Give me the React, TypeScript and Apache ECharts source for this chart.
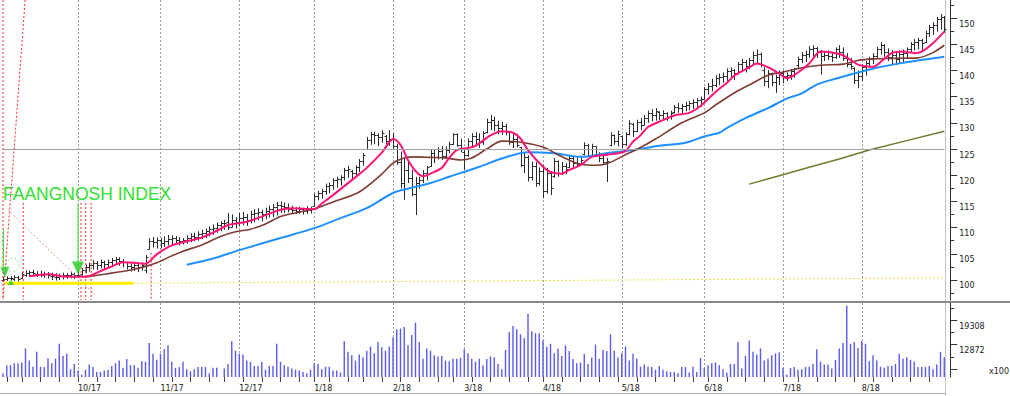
import React, { useEffect, useRef } from "react";
import * as echarts from "echarts";

// ---- trading days (categories) ----
const daysSep17 = [1, 5, 6, 7, 8, 11, 12, 13, 14, 15, 18, 19, 20, 21, 22, 25, 26, 27, 28, 29];
const daysOct17 = [2, 3, 4, 5, 6, 9, 10, 11, 12, 13, 16, 17, 18, 19, 20, 23, 24, 25, 26, 27, 30, 31];
const daysNov17 = [1, 2, 3, 6, 7, 8, 9, 10, 13, 14, 15, 16, 17, 20, 21, 22, 24, 27, 28, 29, 30];
const daysDec17 = [1, 4, 5, 6, 7, 8, 11, 12, 13, 14, 15, 18, 19, 20, 21, 22, 26, 27, 28, 29];
const daysJan18 = [2, 3, 4, 5, 8, 9, 10, 11, 12, 16, 17, 18, 19, 22, 23, 24, 25, 26, 29, 30, 31];
const daysFeb18 = [1, 2, 5, 6, 7, 8, 9, 12, 13, 14, 15, 16, 20, 21, 22, 23, 26, 27, 28];
const daysMar18 = [1, 2, 5, 6, 7, 8, 9, 12, 13, 14, 15, 16, 19, 20, 21, 22, 23, 26, 27, 28, 29];
const daysApr18 = [2, 3, 4, 5, 6, 9, 10, 11, 12, 13, 16, 17, 18, 19, 20, 23, 24, 25, 26, 27, 30];
const daysMay18 = [1, 2, 3, 4, 7, 8, 9, 10, 11, 14, 15, 16, 17, 18, 21, 22, 23, 24, 25, 29, 30, 31];
const daysJun18 = [1, 4, 5, 6, 7, 8, 11, 12, 13, 14, 15, 18, 19, 20, 21, 22, 25, 26, 27, 28, 29];
const daysJul18 = [2, 3, 5, 6, 9, 10, 11, 12, 13, 16, 17, 18, 19, 20, 23, 24, 25, 26, 27, 30, 31];
const daysAug18 = [1, 2, 3, 6, 7, 8, 9, 10, 13, 14, 15, 16, 17, 20, 21, 22, 23, 24, 27, 28, 29, 30, 31];

const monthDays: Array<[number, number, number[]]> = [
  [2017, 9, daysSep17], [2017, 10, daysOct17], [2017, 11, daysNov17], [2017, 12, daysDec17],
  [2018, 1, daysJan18], [2018, 2, daysFeb18], [2018, 3, daysMar18], [2018, 4, daysApr18],
  [2018, 5, daysMay18], [2018, 6, daysJun18], [2018, 7, daysJul18], [2018, 8, daysAug18],
];

// ---- OHLC [open, high, low, close] ----
const ohlcSep17 = [
  [100.0, 100.6, 99.6, 100.2], [100.2, 100.7, 99.8, 100.4], [100.4, 100.8, 99.9, 100.3], [100.2, 100.9, 99.8, 100.5],
  [100.5, 100.8, 99.7, 100.2], [100.4, 101.5, 100.2, 101.2], [101.0, 101.9, 100.6, 101.4], [101.3, 101.8, 100.7, 101.5],
  [101.5, 101.9, 100.8, 101.3], [101.2, 101.7, 100.6, 101.2], [101.1, 101.8, 100.5, 101.0], [101.0, 101.6, 100.4, 101.2],
  [101.2, 101.5, 100.3, 100.9], [100.8, 101.4, 100.0, 100.7], [100.6, 101.3, 99.9, 100.6], [100.6, 101.2, 100.0, 100.8],
  [100.8, 101.4, 100.1, 100.9], [100.9, 101.3, 100.2, 101.0], [101.0, 101.6, 100.3, 101.2], [101.2, 101.4, 100.2, 101.0],
];
const ohlcOct17 = [
  [101.0, 101.7, 100.4, 101.0], [101.1, 102.3, 100.8, 102.0], [102.0, 102.9, 101.3, 102.5], [102.4, 103.3, 101.6, 102.8],
  [102.8, 103.8, 102.0, 103.2], [103.2, 103.6, 101.9, 102.9], [102.9, 103.9, 102.2, 103.4], [103.4, 103.7, 101.9, 103.0],
  [103.0, 103.9, 102.3, 103.5], [103.4, 104.2, 102.6, 103.8], [103.8, 104.4, 102.8, 104.0], [104.0, 104.3, 102.7, 103.6],
  [103.6, 104.0, 102.4, 103.4], [103.4, 103.5, 102.0, 102.6], [102.6, 103.2, 101.6, 102.4], [102.4, 103.3, 101.7, 102.9],
  [102.9, 103.1, 101.5, 102.5], [102.5, 103.4, 101.8, 102.8], [102.0, 104.8, 101.3, 104.4], [106.0, 108.0, 105.8, 107.5],
  [107.5, 108.2, 106.2, 107.2], [107.2, 108.1, 106.0, 107.6],
];
const ohlcNov17 = [
  [107.6, 108.0, 106.0, 107.0], [107.0, 108.3, 106.3, 107.5], [107.5, 108.6, 106.6, 107.8], [107.8, 108.5, 106.8, 108.0],
  [108.0, 108.4, 106.9, 107.7], [107.7, 108.2, 106.6, 107.4], [107.4, 108.0, 106.8, 107.6], [107.6, 108.5, 106.9, 108.0],
  [108.0, 108.9, 107.2, 108.4], [108.4, 109.0, 107.4, 108.3], [108.3, 109.3, 107.5, 108.8], [108.8, 109.6, 107.8, 109.0],
  [109.0, 109.8, 108.0, 109.3], [109.3, 110.2, 108.3, 109.7], [109.7, 110.6, 108.6, 110.0], [110.0, 111.0, 109.0, 110.5],
  [110.5, 111.2, 109.3, 110.8], [110.8, 111.5, 109.6, 110.9], [111.0, 112.8, 109.5, 110.2], [110.2, 112.5, 110.0, 111.5],
  [111.5, 112.0, 109.8, 111.0],
];
const ohlcDec17 = [
  [111.0, 112.8, 110.2, 111.8], [111.8, 113.0, 110.4, 112.0], [112.0, 112.6, 110.3, 111.4], [111.4, 113.2, 110.8, 112.5],
  [112.5, 113.5, 111.0, 112.8], [112.8, 113.7, 111.4, 113.0], [113.0, 113.4, 111.2, 112.6], [112.6, 113.8, 111.6, 113.2],
  [113.2, 114.2, 111.9, 113.6], [113.6, 114.5, 112.0, 114.0], [114.0, 114.9, 112.3, 114.3], [114.3, 115.0, 112.8, 114.2],
  [114.2, 114.8, 112.8, 113.9], [113.9, 114.6, 112.9, 113.6], [113.6, 114.2, 112.8, 113.4], [113.4, 113.9, 112.6, 113.2],
  [113.2, 114.0, 112.6, 113.5], [113.5, 113.8, 112.5, 113.1], [113.1, 114.1, 112.6, 113.4], [113.4, 114.0, 112.7, 113.6],
];
const ohlcJan18 = [
  [114.2, 116.5, 114.0, 116.0], [116.0, 117.0, 115.2, 116.6], [116.6, 117.4, 115.5, 117.0], [117.0, 118.4, 116.3, 118.0],
  [118.0, 118.6, 116.6, 118.2], [118.2, 119.4, 117.2, 119.0], [119.0, 119.7, 117.6, 119.2], [119.2, 120.0, 118.0, 119.6],
  [119.6, 121.4, 119.0, 121.0], [121.0, 121.8, 119.5, 121.2], [120.8, 121.0, 119.2, 120.4], [120.4, 121.9, 119.6, 121.5],
  [121.5, 123.1, 120.6, 122.8], [122.8, 124.2, 121.8, 123.8], [125.0, 127.3, 124.8, 126.8], [126.8, 128.3, 125.8, 127.8],
  [127.8, 128.3, 125.9, 127.6], [127.6, 128.0, 125.5, 127.2], [127.2, 128.6, 126.2, 128.0], [127.5, 127.7, 125.2, 126.5],
  [126.5, 128.6, 125.6, 127.0],
];
const ohlcFeb18 = [
  [127.0, 128.0, 125.0, 125.5], [125.5, 126.0, 122.0, 122.5], [122.5, 124.5, 117.5, 118.5], [118.5, 123.3, 115.3, 121.0],
  [121.0, 122.5, 118.5, 119.5], [119.5, 121.0, 116.0, 116.5], [116.5, 119.7, 112.4, 118.5], [118.5, 119.7, 117.4, 119.0],
  [119.0, 121.0, 118.5, 120.5], [120.5, 121.8, 119.0, 121.5], [121.8, 124.8, 121.6, 124.2], [124.2, 124.8, 122.3, 123.5],
  [123.5, 125.4, 123.0, 124.6], [124.6, 125.6, 122.9, 123.6], [123.6, 125.5, 123.2, 124.8], [124.8, 126.4, 124.2, 126.0],
  [126.0, 128.0, 125.8, 127.8], [127.8, 128.0, 125.4, 125.8], [125.8, 127.0, 124.4, 125.0],
];
const ohlcMar18 = [
  [124.5, 124.8, 121.0, 123.8], [123.8, 127.0, 123.5, 126.5], [126.5, 128.0, 125.5, 127.5], [127.5, 128.2, 125.6, 127.0],
  [127.0, 128.0, 125.2, 126.3], [126.3, 128.4, 125.8, 128.0], [128.2, 130.8, 128.0, 130.2], [130.2, 131.5, 128.6, 130.6],
  [130.6, 131.2, 128.4, 129.5], [129.5, 130.4, 127.8, 129.0], [129.0, 130.2, 127.7, 129.4], [129.4, 129.8, 127.6, 128.2],
  [128.2, 128.3, 125.8, 126.4], [126.4, 128.0, 125.2, 127.0], [127.0, 127.9, 125.3, 125.8], [125.4, 125.4, 121.6, 122.0],
  [122.0, 124.4, 120.4, 123.5], [123.5, 123.8, 118.8, 119.6], [119.6, 122.6, 119.0, 121.8], [121.8, 122.5, 117.8, 118.5],
  [118.5, 121.5, 118.0, 120.8],
];
const ohlcApr18 = [
  [120.8, 121.9, 115.6, 117.0], [117.0, 121.4, 116.5, 120.5], [120.5, 120.8, 116.2, 117.5], [119.8, 123.3, 119.5, 122.8],
  [122.8, 122.8, 119.7, 120.5], [120.5, 122.5, 120.0, 121.8], [121.8, 122.3, 120.2, 121.2], [121.5, 123.8, 121.4, 123.3],
  [123.3, 123.6, 121.2, 122.4], [122.4, 123.3, 121.6, 122.2], [122.2, 123.4, 121.9, 122.9], [124.0, 126.3, 123.8, 125.8],
  [125.8, 126.0, 123.6, 125.0], [125.0, 126.0, 123.8, 125.5], [125.5, 125.5, 123.5, 124.0], [124.0, 124.4, 122.5, 123.2],
  [123.2, 124.2, 122.0, 122.6], [122.6, 123.3, 118.7, 122.8], [125.8, 128.2, 125.5, 127.6], [127.6, 127.8, 125.8, 126.5],
  [126.5, 128.5, 125.5, 127.8],
];
const ohlcMay18 = [
  [127.4, 127.6, 125.2, 126.0], [126.0, 128.2, 125.6, 127.8], [127.8, 130.5, 127.6, 130.0], [129.8, 130.0, 127.3, 128.4],
  [128.4, 130.6, 128.2, 130.2], [130.2, 130.9, 128.6, 129.6], [129.6, 131.5, 129.5, 131.0], [131.0, 132.3, 130.0, 131.8],
  [131.8, 132.6, 130.3, 131.5], [131.5, 132.8, 130.4, 132.2], [132.0, 132.2, 130.5, 131.4], [131.4, 132.4, 130.6, 131.8],
  [131.8, 132.0, 130.4, 131.2], [131.2, 132.3, 130.6, 131.9], [132.0, 133.4, 131.8, 133.0], [133.0, 133.8, 131.9, 132.8],
  [132.8, 133.6, 131.8, 133.2], [133.2, 134.0, 132.2, 133.4], [133.4, 134.2, 132.4, 133.8], [133.8, 134.5, 132.6, 133.9],
  [133.9, 134.7, 132.8, 134.3], [134.3, 135.0, 133.0, 134.6],
];
const ohlcJun18 = [
  [134.6, 136.8, 134.4, 136.4], [136.4, 137.6, 135.4, 137.0], [137.0, 138.4, 136.0, 137.2], [137.2, 139.1, 136.8, 138.5],
  [138.5, 139.4, 137.2, 138.8], [138.8, 139.6, 137.6, 139.0], [139.0, 140.4, 138.0, 139.8], [139.8, 140.6, 138.3, 140.0],
  [140.0, 140.3, 138.2, 139.5], [139.5, 141.6, 139.2, 141.2], [141.2, 142.2, 139.8, 141.6], [141.6, 142.0, 139.6, 140.8],
  [140.8, 142.4, 140.2, 142.0], [142.0, 143.6, 141.0, 143.0], [143.0, 144.0, 141.4, 143.2], [143.2, 143.4, 140.6, 141.2],
  [140.0, 140.6, 137.0, 138.0], [138.0, 140.1, 136.6, 139.5], [139.5, 139.6, 137.0, 137.8], [137.8, 139.2, 135.7, 138.8],
  [138.8, 140.0, 137.2, 139.5],
];
const ohlcJul18 = [
  [139.5, 140.0, 137.6, 139.0], [139.0, 139.6, 138.0, 139.2], [139.2, 140.2, 138.2, 139.8], [139.8, 140.5, 138.6, 140.2],
  [141.0, 142.6, 140.4, 142.2], [142.2, 143.5, 141.4, 143.0], [143.0, 143.8, 141.6, 143.2], [143.2, 144.6, 142.4, 144.0],
  [144.0, 144.8, 142.6, 144.2], [144.2, 144.5, 142.4, 143.6], [143.6, 143.9, 139.2, 142.8], [142.8, 143.6, 141.8, 143.0],
  [143.0, 143.8, 142.0, 142.8], [142.8, 143.4, 141.6, 142.6], [142.6, 144.4, 142.2, 144.0], [144.0, 144.8, 142.4, 143.6],
  [143.6, 144.4, 141.8, 142.4], [142.4, 143.3, 140.6, 141.2], [141.2, 142.4, 140.2, 140.8], [140.4, 140.6, 137.4, 138.2],
  [138.2, 140.0, 136.6, 139.0],
];
const ohlcAug18 = [
  [139.0, 141.2, 138.0, 140.6], [140.6, 141.8, 139.0, 141.4], [141.4, 142.6, 140.6, 142.2], [142.2, 143.3, 141.2, 142.8],
  [142.8, 144.5, 142.4, 144.0], [144.0, 145.4, 143.0, 144.8], [144.8, 145.0, 142.6, 143.6], [143.6, 144.2, 141.8, 142.6],
  [142.6, 143.9, 141.2, 143.0], [143.0, 143.6, 141.0, 142.2], [142.2, 143.8, 141.4, 143.2], [143.2, 144.0, 141.6, 143.4],
  [143.4, 144.4, 142.2, 144.0], [144.0, 145.4, 143.4, 145.0], [145.0, 146.0, 143.8, 145.5], [145.5, 146.2, 144.0, 145.8],
  [145.8, 146.0, 143.8, 145.2], [145.4, 147.6, 145.2, 147.2], [147.2, 148.7, 146.4, 148.2], [148.2, 149.2, 146.8, 148.6],
  [148.6, 150.2, 147.4, 149.8], [149.8, 150.8, 147.8, 150.2], [150.2, 150.4, 147.2, 148.0],
];

// ---- volume (x100) ----
const volSep17 = [5400, 7500, 7500, 8000, 8000, 8200, 11900, 8700, 7100, 11000, 7100, 7000, 9300, 8000, 9200, 13100, 9900, 10500, 6400, 7800];
const volOct17 = [6100, 5000, 6300, 7700, 7000, 5700, 5700, 6100, 6300, 7300, 8000, 8700, 6800, 9100, 7500, 7500, 6800, 8500, 8400, 13300, 10500, 8900];
const volNov17 = [10500, 11700, 12700, 8400, 6800, 7000, 8400, 6400, 5900, 6400, 7000, 7000, 7000, 5400, 6800, 6800, 4000, 6600, 7800, 13800, 11300];
const volDec17 = [10500, 10300, 8700, 8400, 7300, 7300, 8400, 6300, 7300, 7300, 13100, 8400, 7500, 7100, 6600, 6300, 6100, 5700, 5400, 6300];
const volJan18 = [8000, 7800, 6400, 7100, 7100, 6100, 6100, 5600, 13800, 11000, 10100, 8700, 10300, 9600, 11300, 12400, 10600, 13600, 12200, 11300, 12400];
const volFeb18 = [14800, 16900, 17100, 17500, 12700, 15400, 18700, 13600, 9200, 11900, 11300, 10100, 9800, 9900, 8700, 8500, 9200, 9200, 9400];
const volMar18 = [11700, 10600, 9200, 8400, 9200, 7500, 9100, 9800, 9600, 7800, 6400, 11500, 16200, 17800, 16900, 15600, 14600, 21000, 16400, 15900, 15900];
const volApr18 = [13900, 12300, 13100, 10600, 11900, 9900, 12700, 11200, 9100, 8000, 8200, 10500, 7800, 9500, 12900, 9200, 11500, 11200, 15600, 11300, 9500];
const volMay18 = [10600, 12400, 8700, 10500, 9200, 7100, 7700, 7100, 7000, 6300, 7300, 6300, 5900, 5700, 5700, 5400, 7000, 7000, 5600, 7100, 5700, 9400];
const volJun18 = [6800, 7500, 8000, 8200, 7500, 6400, 5600, 7800, 7800, 13600, 6600, 9900, 14000, 11000, 10300, 11900, 8700, 9200, 10100, 10600, 10800];
const volJul18 = [6800, 5000, 6800, 7000, 6300, 6400, 7000, 7100, 7800, 11700, 8400, 7700, 7700, 6600, 8900, 11900, 13300, 23100, 13100, 13600, 12000];
const volAug18 = [13800, 13100, 8500, 10100, 8700, 7100, 6800, 7300, 7300, 7800, 10500, 9200, 9600, 8900, 8400, 7000, 7000, 7000, 7300, 6400, 7700, 11000, 9600];

// ---- moving averages: [bar index, value] ----
const maPink = [[7, 100.7], [12, 101.1], [17, 100.6], [22, 100.6], [26, 101.7], [29, 102.6], [32, 103.4], [35, 103.3], [38, 103.1], [41, 104.9], [45, 106.6], [49, 107.4], [53, 108.1], [57, 109.4], [60, 110.5], [65, 111.1], [69, 112.1], [74, 113.4], [77, 113.7], [80, 113.6], [83, 113.5], [85, 114.6], [88, 116.2], [95, 120.2], [97, 121.4], [101, 124.3], [103, 126.3], [104, 126.9], [106, 125.8], [108, 122.9], [110, 120.8], [112, 119.8], [114, 120.3], [117, 121.4], [119, 123.3], [121, 124.8], [124, 125.2], [126, 125.6], [130, 127.6], [133, 128.4], [136, 128.1], [138, 127.0], [140, 124.8], [144, 121.6], [146, 120.6], [149, 120.3], [151, 121.0], [154, 121.9], [157, 123.5], [161, 123.9], [164, 124.2], [166, 124.6], [168, 126.4], [170, 127.6], [172, 129.2], [176, 130.5], [179, 131.4], [183, 131.9], [186, 133.2], [190, 135.9], [193, 137.6], [195, 139.0], [199, 140.6], [201, 141.3], [204, 140.6], [207, 139.4], [209, 138.5], [212, 139.6], [215, 141.3], [218, 143.6], [221, 143.4], [224, 142.9], [226, 142.0], [228, 141.1], [230, 140.8], [232, 140.7], [235, 142.2], [237, 143.3], [240, 143.6], [243, 143.3], [245, 143.6], [248, 145.2], [251, 147.4]];
const maBrown = [[22, 100.6], [28, 101.2], [34, 101.9], [38, 102.6], [41, 103.3], [45, 104.6], [48, 105.5], [53, 106.7], [58, 108.3], [62, 109.2], [66, 109.7], [70, 110.7], [74, 112.1], [78, 112.8], [83, 113.6], [88, 114.9], [95, 116.8], [101, 120.2], [104, 122.3], [107, 123.3], [110, 123.5], [114, 123.4], [118, 123.3], [122, 122.9], [125, 123.3], [129, 125.0], [133, 126.5], [137, 126.4], [144, 125.4], [148, 123.9], [153, 122.3], [157, 121.9], [161, 122.2], [166, 123.9], [170, 125.3], [174, 126.9], [181, 130.0], [187, 131.9], [190, 133.4], [195, 135.7], [200, 137.6], [204, 139.1], [208, 139.7], [213, 140.5], [218, 141.0], [224, 141.2], [228, 141.9], [232, 142.2], [237, 142.3], [244, 142.4], [248, 143.4], [251, 144.8]];
const maBlue = [[49, 102.9], [56, 104.1], [63, 105.7], [74, 108.0], [83, 109.9], [90, 111.8], [97, 113.7], [104, 116.6], [109, 117.6], [114, 118.5], [119, 119.7], [127, 121.6], [133, 123.2], [140, 124.4], [147, 124.2], [154, 123.5], [161, 124.2], [168, 124.8], [175, 125.6], [182, 126.2], [187, 127.4], [191, 128.1], [193, 129.0], [198, 130.9], [204, 132.8], [209, 134.6], [213, 135.6], [217, 137.3], [222, 138.4], [228, 139.6], [233, 140.5], [238, 141.2], [244, 141.9], [251, 142.6]];
const maOlive = [[199, 118.3], [207, 119.9], [215, 121.5], [223, 123.1], [231, 124.8], [241, 126.6], [251, 128.4]];

// ---- drawn annotations (bar index, price) ----
const redDotted = [
  [[0, 153.44], [0, 96.18]],
  [[5.9, 153.44], [0, 96.18]],
  [[5.4, 114.7], [5.4, 96.18]],
  [[20.8, 114.7], [20.8, 96.18]],
  [[22.05, 114.7], [22.05, 96.18]],
  [[23.5, 114.7], [23.5, 96.18]],
  [[39.5, 105.2], [39.5, 96.18]],
];
const salmonDotted = [[1.3, 113.4], [25.1, 96.8]];
const yellowSolid = [[0.5, 99.37], [34.7, 99.37]];
const yellowDotted = [[34.7, 99.37], [251, 100.4]];
const greenShafts = [
  [[0.1, 109.5], [0.1, 102.6]],
  [[20, 114.7], [20, 103.4]],
];
const greenArrowSmall = [[0.5, 101.5]];
const greenArrowBig = [[20, 102.3]];
const greenUp = [[2.1, 99.5]];
const greenCircle = [[2.6, 102.9]];

// ---- axis ticks ----
const priceMajor = [100, 105, 110, 115, 120, 125, 130, 135, 140, 145, 150];
const priceMinor = [97.5, 102.5, 107.5, 112.5, 117.5, 122.5, 127.5, 132.5, 137.5, 142.5, 147.5, 152.5];
const volMajor = [6436, 12872, 19308];
const volMinor = [9654, 16090, 22526];
const volLabels = [12872, 19308];

const dates: string[] = [];
monthDays.forEach(([y, m, ds]) =>
  ds.forEach((d) => dates.push(`${y}-${String(m).padStart(2, "0")}-${String(d).padStart(2, "0")}`))
);
const ohlc = [
  ...ohlcSep17, ...ohlcOct17, ...ohlcNov17, ...ohlcDec17, ...ohlcJan18, ...ohlcFeb18,
  ...ohlcMar18, ...ohlcApr18, ...ohlcMay18, ...ohlcJun18, ...ohlcJul18, ...ohlcAug18,
];
const volume = [
  ...volSep17, ...volOct17, ...volNov17, ...volDec17, ...volJan18, ...volFeb18,
  ...volMar18, ...volApr18, ...volMay18, ...volJun18, ...volJul18, ...volAug18,
];

const monthStart = new Set<number>();
const weekStart = new Set<number>();
dates.forEach((d, i) => {
  if (i === 0) return;
  const p = dates[i - 1];
  if (d.slice(5, 7) !== p.slice(5, 7)) monthStart.add(i);
  const dw = new Date(d + "T12:00:00Z").getUTCDay();
  const pw = new Date(p + "T12:00:00Z").getUTCDay();
  if (dw <= pw || Date.parse(d) - Date.parse(p) > 4 * 86400000) weekStart.add(i);
});

const FONT = "DejaVu Sans";
const LAST = dates.length - 1;
const GRID_LEFT = 3;
const PLOT_RIGHT_X = 3 + 3.75 * LAST;
const GRID_RIGHT = 1010 - PLOT_RIGHT_X;
const AXIS_OFFSET = 6;

function lineSeries(data: number[][], color: string, width: number, type: any = "solid", extra: any = {}) {
  return {
    type: "line",
    xAxisIndex: 1,
    yAxisIndex: 0,
    data,
    symbol: "none",
    silent: true,
    animation: false,
    lineStyle: { color, width, type },
    z: 4,
    ...extra,
  };
}

function buildOption(): any {
  const series: any[] = [];

  series.push({
    type: "custom",
    xAxisIndex: 1,
    yAxisIndex: 0,
    data: ohlc.map((r, i) => [i, r[0], r[1], r[2], r[3]]),
    encode: { x: 0, y: [1, 2, 3, 4] },
    silent: true,
    z: 2,
    renderItem: (_p: any, api: any) => {
      const i = api.value(0);
      const o = api.coord([i, api.value(1)]);
      const h = api.coord([i, api.value(2)]);
      const l = api.coord([i, api.value(3)]);
      const c = api.coord([i, api.value(4)]);
      const x = Math.round(h[0]) + 0.5;
      const st = { stroke: "#2a2a2a", lineWidth: 1 };
      return {
        type: "group",
        children: [
          { type: "line", shape: { x1: x, y1: h[1], x2: x, y2: l[1] }, style: st },
          { type: "line", shape: { x1: x - 2, y1: Math.round(o[1]) + 0.5, x2: x, y2: Math.round(o[1]) + 0.5 }, style: st },
          { type: "line", shape: { x1: x, y1: Math.round(c[1]) + 0.5, x2: x + 2, y2: Math.round(c[1]) + 0.5 }, style: st },
        ],
      };
    },
  });

  series.push(lineSeries(maOlive, "#6e7a2c", 1.5));
  series.push(
    lineSeries(maBlue, "#1e90ff", 2, "solid", {
      smooth: 0.3,
      markLine: {
        silent: true,
        symbol: "none",
        label: { show: false },
        lineStyle: { color: "#a0a0a0", width: 1, type: "solid" },
        data: [{ yAxis: 125 }],
      },
    })
  );
  series.push(lineSeries(maBrown, "#7d3b32", 1.6, "solid", { smooth: 0.3 }));
  series.push(lineSeries(maPink, "#ff1478", 2, "solid", { smooth: 0.3 }));

  redDotted.forEach((d) => series.push(lineSeries(d, "#ff2a2a", 1, [2, 2], { z: 5 })));
  series.push(lineSeries(salmonDotted, "#f48a8a", 1, [2, 2], { z: 5 }));
  series.push(lineSeries(yellowSolid, "#ffee00", 3, "solid", { z: 5 }));
  series.push(lineSeries(yellowDotted, "#eee04a", 1, [2, 2], { z: 5 }));
  greenShafts.forEach((d) => series.push(lineSeries(d, "#33dd33", 1, "solid", { z: 6 })));

  const scatter = (data: number[][], size: any, symbol: string, rotate: number, style: any) => ({
    type: "scatter",
    xAxisIndex: 1,
    yAxisIndex: 0,
    data,
    symbol,
    symbolSize: size,
    symbolRotate: rotate,
    silent: true,
    itemStyle: style,
    z: 7,
  });
  series.push(scatter(greenArrowSmall, [9, 11], "triangle", 180, { color: "#22cc22" }));
  series.push(scatter(greenArrowBig, [12, 13], "triangle", 180, { color: "#22cc22" }));
  series.push(scatter(greenUp, [7, 5], "triangle", 0, { color: "#22cc22" }));
  series.push(
    scatter(greenCircle, 13, "circle", 0, {
      color: "transparent",
      borderColor: "#66dd66",
      borderWidth: 1,
      borderType: [2, 2],
    })
  );

  series.push({
    type: "bar",
    xAxisIndex: 2,
    yAxisIndex: 2,
    data: volume,
    barWidth: 1.4,
    silent: true,
    itemStyle: { color: "#5a5af0" },
    z: 3,
  });

  const labelStyle = { fontFamily: FONT, fontSize: 8, color: "#222" };
  const monthLabel = (v: string) => `${Number(v.slice(5, 7))}/${v.slice(2, 4)}`;
  const plain = (v: number) => String(v);

  const yAx = (gridIndex: number, min: number, max: number, major: number[], minor: number[], labels: number[]) => [
    {
      type: "value",
      gridIndex,
      position: "right",
      offset: AXIS_OFFSET,
      min,
      max,
      axisLine: { show: true, onZero: false, lineStyle: { color: "#333", width: 1 } },
      axisTick: { show: true, customValues: major, length: 7, lineStyle: { color: "#333" } },
      axisLabel: { ...labelStyle, customValues: labels, formatter: plain, margin: 9, verticalAlign: "top", lineHeight: 12 },
      splitLine: { show: false },
    },
    {
      type: "value",
      gridIndex,
      position: "right",
      offset: AXIS_OFFSET,
      min,
      max,
      axisLine: { show: false, onZero: false },
      axisTick: { show: true, customValues: minor, length: 4, lineStyle: { color: "#333" } },
      axisLabel: { show: false },
      splitLine: { show: false },
    },
  ];

  return {
    animation: false,
    backgroundColor: "#ffffff",
    grid: [
      { left: GRID_LEFT, right: GRID_RIGHT, top: 0, height: 300, outerBoundsMode: "none", containLabel: false },
      { left: GRID_LEFT, right: GRID_RIGHT, top: 303, height: 74, outerBoundsMode: "none", containLabel: false },
    ],
    xAxis: [
      {
        type: "category",
        gridIndex: 0,
        data: dates,
        boundaryGap: false,
        axisLine: { show: false, onZero: false },
        axisTick: { show: false },
        axisLabel: { show: false },
        splitLine: { show: true, interval: (i: number) => monthStart.has(i), lineStyle: { color: "#9a9a9a", width: 1, type: [2, 2] } },
      },
      {
        type: "value",
        gridIndex: 0,
        min: 0,
        max: LAST,
        show: false,
        axisLine: { show: false, onZero: false },
        splitLine: { show: false },
      },
      {
        type: "category",
        gridIndex: 1,
        data: dates,
        boundaryGap: false,
        position: "bottom",
        axisLine: { show: false, onZero: false },
        axisTick: { show: true, interval: (i: number) => weekStart.has(i), length: 5, lineStyle: { color: "#444", width: 1 } },
        axisLabel: {
          ...labelStyle,
          interval: (i: number) => monthStart.has(i),
          formatter: monthLabel,
          align: "left",
          margin: 7,
          hideOverlap: false,
        },
        splitLine: { show: true, interval: (i: number) => monthStart.has(i), lineStyle: { color: "#9a9a9a", width: 1, type: [2, 2] } },
      },
    ],
    yAxis: [
      ...yAx(0, 96.18, 153.44, priceMajor, priceMinor, priceMajor),
      ...yAx(1, 4400, 23800, volMajor, volMinor, volLabels),
    ],
    graphic: [
      { type: "line", silent: true, shape: { x1: 945.5, y1: 0, x2: 945.5, y2: 396 }, style: { stroke: "#c4c4c4", lineWidth: 1 } },
      { type: "rect", silent: true, shape: { x: 0, y: 301, width: 1010, height: 2 }, style: { fill: "#8a8a8a" } },
      { type: "line", silent: true, shape: { x1: 0, y1: 393.5, x2: 946, y2: 393.5 }, style: { stroke: "#b0b0b0", lineWidth: 1 } },
      {
        type: "text",
        silent: true,
        x: 3,
        y: 194,
        style: { text: "FAANGNOSH INDEX", fontFamily: "Liberation Sans", fontSize: 17.5, fill: "#2fe02f", verticalAlign: "middle" },
      },
      {
        type: "text",
        silent: true,
        x: 989,
        y: 371,
        style: { text: "x100", fontFamily: FONT, fontSize: 8, fill: "#222", verticalAlign: "middle" },
      },
    ],
    series,
  };
}

export default function App() {
  const ref = useRef<HTMLDivElement>(null);
  useEffect(() => {
    if (!ref.current) return;
    const chart = echarts.init(ref.current, undefined, { renderer: "svg", width: 1010, height: 396 });
    chart.setOption(buildOption());
    return () => chart.dispose();
  }, []);
  return (
    <div
      ref={ref}
      style={{ position: "fixed", left: 0, top: 0, width: 1010, height: 396, background: "#fff" }}
    />
  );
}
